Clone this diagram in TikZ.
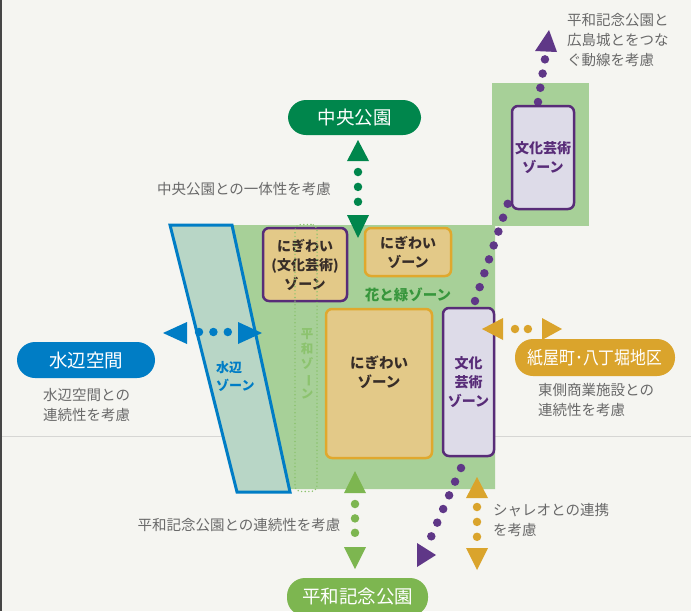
\documentclass[tikz,border=0pt]{standalone}
\usepackage{fontspec}
\setmainfont{Noto Sans CJK JP}
\definecolor{bgc}{RGB}{245,245,241}
\definecolor{gridc}{RGB}{214,214,212}
\definecolor{edgec}{RGB}{70,70,70}
\definecolor{areag}{RGB}{167,208,152}
\definecolor{parag}{RGB}{184,214,198}
\definecolor{bluec}{RGB}{0,125,197}
\definecolor{tanc}{RGB}{227,201,136}
\definecolor{orangec}{RGB}{224,168,45}
\definecolor{purpc}{RGB}{88,44,120}
\definecolor{purpd}{RGB}{95,55,135}
\definecolor{lavc}{RGB}{221,219,232}
\definecolor{dgreenc}{RGB}{0,134,76}
\definecolor{lgreenc}{RGB}{125,182,80}
\definecolor{goldc}{RGB}{218,164,44}
\definecolor{grayt}{RGB}{105,105,105}
\definecolor{flowerc}{RGB}{55,150,60}
\definecolor{heiwac}{RGB}{140,195,110}
\definecolor{boxt}{RGB}{55,45,40}
\tikzset{
  zonebox/.style={rectangle, rounded corners=6pt, line width=2.5pt, inner sep=0pt, align=center,
    font=\fontsize{14}{19}\selectfont\bfseries},
  pill/.style={rectangle, rounded corners=18pt, inner sep=0pt, text=white,
    font=\fontsize{18.5}{22}\selectfont},
  note/.style={inner sep=0pt, text=grayt, align=left, font=\fontsize{14.5}{20}\selectfont},
  dotline/.style={line width=8.5pt, line cap=round, dash pattern=on 0pt off #1pt},
}
\begin{document}
\begin{tikzpicture}[x=1pt,y=-1pt]
\useasboundingbox (0,0) rectangle (691,611);
\clip (0,0) rectangle (691,611);
\fill[bgc] (0,0) rectangle (691,611);
\draw[gridc, line width=1pt] (0,436) -- (691,436);
\draw[edgec, line width=2pt] (1,0) -- (1,611);

% green area (flower and green zone)
\fill[areag] (232,225) -- (495,225) -- (495,489) -- (289,489) -- cycle;
\fill[areag] (492,83) rectangle (589,226);

% waterside zone parallelogram
\draw[bluec, line width=3pt, fill=parag, line join=miter] (170,225) -- (232,225) -- (290,492) -- (237,492) -- cycle;
\node[inner sep=0pt, anchor=west, align=left, text=bluec, font=\fontsize{13}{18}\selectfont\bfseries] (mzt) at (216,376) {水辺\\ゾーン};

% purple route (behind the zone boxes)
\coordinate (pa1) at (461,468);
\coordinate (pa2) at (431,537);
\coordinate (pb1) at (475,301);
\coordinate (pb2) at (508,203);
\coordinate (pc1) at (538,102);
\coordinate (pc2) at (545,59);
\draw[dotline=14.9, purpd] (pa1) -- (pa2);
\draw[dotline=14.65, purpd] (pb1) -- (pb2);
\draw[dotline=14.4, purpd] (pc1) -- (pc2);
\fill[purpd] (549,30) -- (535,51) -- (557,52) -- cycle;
\fill[purpd] (417,543) -- (436,555) -- (417,567) -- cycle;

% zone boxes
\node[zonebox, draw=purpc, fill=tanc, text=boxt, minimum width=84pt, minimum height=73pt] (nb) at (305,264.5) {にぎわい\\(文化芸術)\\ゾーン};
\node[zonebox, draw=orangec, fill=tanc, text=boxt, minimum width=86pt, minimum height=48pt] (ns) at (408,252) {にぎわい\\ゾーン};
\node[zonebox, draw=orangec, fill=tanc, minimum width=106pt, minimum height=149pt] (nbig) at (379,383.5) {};
\node[inner sep=0pt, align=center, text=boxt, font=\fontsize{14.5}{19}\selectfont\bfseries] (nbigt) at (379,372) {にぎわい\\ゾーン};
\node[zonebox, draw=purpc, fill=lavc, text=purpc, minimum width=51pt, minimum height=148pt] (bl) at (468.5,382) {文化\\芸術\\ゾーン};
\node[zonebox, draw=purpc, fill=lavc, text=purpc, minimum width=62pt, minimum height=103pt] (bu) at (543,157.5) {文化芸術\\ゾーン};

% heiwa zone dotted band
\node[draw=heiwac, line width=1.6pt, line cap=round, dash pattern=on 0pt off 3.6pt, rounded corners=6pt,
  minimum width=22pt, minimum height=267pt, inner sep=0pt] (hz) at (306,358) {};
\node[inner sep=0pt, align=center, text=heiwac, font=\fontsize{12.5}{15}\selectfont\bfseries] (hzt) at (307,364)
  {平\\和\\ゾ\\\rotatebox[origin=c]{-90}{ー}\\ン};

\node[inner sep=0pt, text=flowerc, font=\fontsize{14.5}{18}\selectfont\bfseries] (hm) at (408,295) {花と緑ゾーン};

% blue arrow
\coordinate (ba) at (199,332);
\coordinate (bb) at (228,332);
\draw[dotline=14.4, bluec] (ba) -- (bb);
\fill[bluec] (163,333) -- (187,322) -- (187,344) -- cycle;
\fill[bluec] (262,333) -- (238,322) -- (238,344) -- cycle;

% dark green arrow
\coordinate (ga) at (358,172);
\coordinate (gb) at (358,202);
\draw[dotline=14.9, dgreenc] (ga) -- (gb);
\fill[dgreenc] (358,140) -- (347,161) -- (369,161) -- cycle;
\fill[dgreenc] (358,238) -- (347,215) -- (369,215) -- cycle;

% light green arrow
\coordinate (la) at (355,504);
\coordinate (lb) at (355,533);
\draw[dotline=14.4, lgreenc] (la) -- (lb);
\fill[lgreenc] (355,471) -- (344,493) -- (366,493) -- cycle;
\fill[lgreenc] (355,569) -- (344,547) -- (366,547) -- cycle;

% gold vertical arrow
\coordinate (va) at (477,507);
\coordinate (vb) at (477,537);
\draw[dotline=14.9, goldc] (va) -- (vb);
\fill[goldc] (477,477) -- (466,498) -- (488,498) -- cycle;
\fill[goldc] (477,570) -- (466,548) -- (488,548) -- cycle;

% gold horizontal arrow
\coordinate (ha) at (515,329);
\coordinate (hb) at (528,329);
\draw[dotline=12.9, goldc] (ha) -- (hb);
\fill[goldc] (482,329) -- (503,318) -- (503,340) -- cycle;
\fill[goldc] (562,329) -- (542,318) -- (542,340) -- cycle;

% pills
\node[pill, fill=dgreenc, minimum width=133pt, minimum height=35pt] (cp) at (354.5,117.5) {中央公園};
\node[pill, fill=bluec, minimum width=138pt, minimum height=36pt] (ws) at (86,360) {水辺空間};
\node[pill, fill=goldc, minimum width=160pt, minimum height=37pt] (km) at (595,357.5)
  {\scalebox{0.88}[1]{\fontsize{18}{22}\selectfont 紙屋町･八丁堀地区}};
\node[pill, fill=lgreenc, minimum width=141pt, minimum height=38pt] (hp) at (357.5,597) {平和記念公園};

% notes
\node[note, anchor=center] (n1) at (244,189) {中央公園との一体性を考慮};
\node[note, anchor=west] (n2) at (43,405.5) {水辺空間との\\連続性を考慮};
\node[note, anchor=center] (n3) at (239,525) {平和記念公園との連続性を考慮};
\node[note, anchor=west] (n4) at (493,520) {シャレオとの連携\\を考慮};
\node[note, anchor=west] (n5) at (538,400) {東側商業施設との\\連続性を考慮};
\node[note, anchor=west] (n6) at (567,40.5) {平和記念公園と\\広島城とをつな\\ぐ動線を考慮};
\end{tikzpicture}
\end{document}
